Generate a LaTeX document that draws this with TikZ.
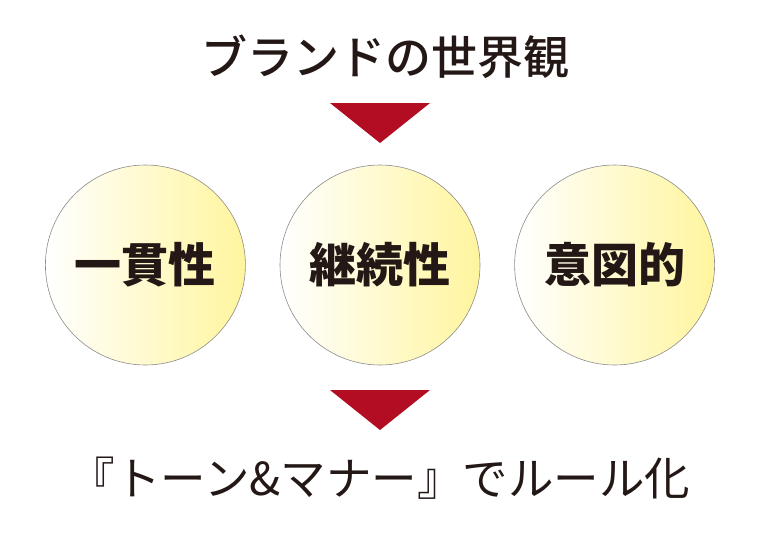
\documentclass[tikz,border=0pt]{standalone}
\usepackage{fontspec}
\usepackage{xcolor}
\usepackage{tikz}
\usetikzlibrary{positioning,calc}
\newfontfamily\jpfont{Noto Sans CJK JP}
\newfontfamily\jpmedium{Noto Sans CJK JP Medium}
\definecolor{inkgray}{HTML}{231815}
\definecolor{markred}{HTML}{B20D23}
\definecolor{softyellow}{HTML}{FFF59E}
\definecolor{rimgray}{HTML}{8C8C8C}

\begin{document}
\begin{tikzpicture}[
  x=1pt, y=-1pt,
  node distance=34pt,
  ball/.style={circle, draw=rimgray, line width=0.6pt, minimum size=200pt,
               inner sep=0pt, left color=white, right color=softyellow,
               text=inkgray, font=\jpfont\bfseries\fontsize{47}{50}\selectfont},
  headline/.style={text=inkgray, inner sep=0pt, font=\jpmedium\fontsize{46}{50}\selectfont},
  footline/.style={text=inkgray, inner sep=0pt, font=\jpfont\fontsize{45.5}{48}\selectfont},
  pointer/.style={fill=markred}
]
  \useasboundingbox (0,0) rectangle (757,543);

  % title
  \node[headline] (title) at (385,57) {ブランドの世界観};
  \fill[pointer] (330,103) -- (430,103) -- (380,143) -- cycle;

  % three circles
  \node[ball] (mid) at (380,265) {継続性};
  \node[ball, left=of mid] (left) {一貫性};
  \node[ball, right=of mid] (right) {意図的};

  % result
  \fill[pointer] (330,390) -- (430,390) -- (380,430) -- cycle;
  \node[footline] (rule) at (380,478) {『トーン\&マナー』でルール化};
\end{tikzpicture}
\end{document}
